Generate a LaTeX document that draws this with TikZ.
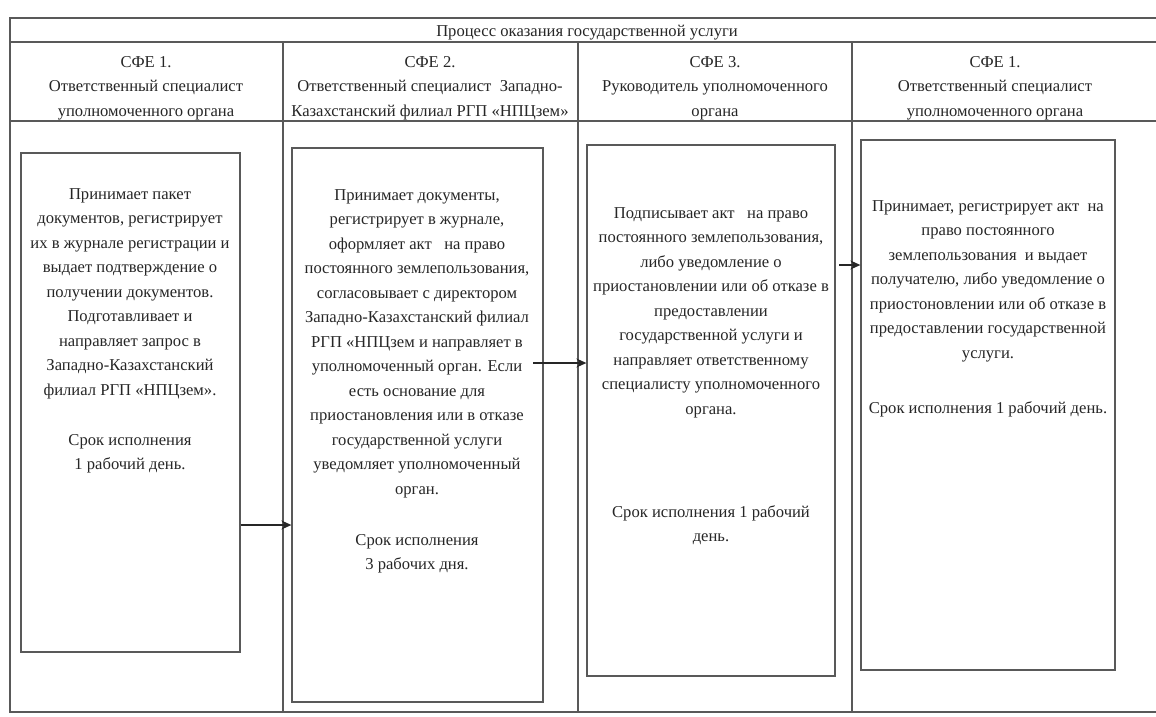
\documentclass[tikz,border=0pt]{standalone}
\usepackage{fontspec}
\setmainfont{Liberation Serif}
\usetikzlibrary{arrows.meta}
\newcommand{\topst}{\rule{0pt}{12pt}}
\begin{document}
\begin{tikzpicture}[x=1pt,y=-1pt,
  frame/.style={draw=black!65, line width=1.3pt},
  box/.style={draw=black!65, line width=1.3pt, inner sep=0pt, fill=none},
  txt/.style={align=center, font=\fontsize{16.6}{24.5}\selectfont, inner sep=0pt, anchor=north, text=black!85},
  arr/.style={draw=black!85, line width=1.2pt, -{Stealth[length=10pt,width=9pt]}}]
\useasboundingbox (0,0) rectangle (1156,717);
\fill[white] (0,0) rectangle (1156,717);
% table frame
\draw[frame] (1156,18) -- (10,18) -- (10,712) -- (1156,712);
\draw[frame] (10,42) -- (1156,42);
\draw[frame] (10,121) -- (1156,121);
\draw[frame] (283,42) -- (283,712);
\draw[frame] (578,42) -- (578,712);
\draw[frame] (852,42) -- (852,712);
% title
\node[txt] (title) at (587,24) {\topst Процесс оказания государственной услуги};
% headers
\node[txt] (h1) at (146,55) {\topst СФЕ 1.\\Ответственный специалист\\уполномоченного органа};
\node[txt] (h2) at (430,55) {\topst СФЕ 2.\\Ответственный специалист\ \ Западно-\\Казахстанский филиал РГП «НПЦзем»};
\node[txt] (h3) at (715,55) {\topst СФЕ 3.\\Руководитель уполномоченного\\органа};
\node[txt] (h4) at (995,55) {\topst СФЕ 1.\\Ответственный специалист\\уполномоченного органа};
% boxes
\node[box, minimum width=219pt, minimum height=499pt] (b1) at (130.5,402.5) {};
\node[box, minimum width=251pt, minimum height=554pt] (b2) at (417.5,425) {};
\node[box, minimum width=248pt, minimum height=531pt] (b3) at (711,410.5) {};
\node[box, minimum width=254pt, minimum height=530pt] (b4) at (988,405) {};
% box texts
\node[txt] (t1) at (130,187) {\topst Принимает пакет\\документов, регистрирует\\их в журнале регистрации и\\выдает подтверждение о\\получении документов.\\Подготавливает и\\направляет запрос в\\Западно-Казахстанский\\филиал РГП «НПЦзем».};
\node[txt] (s1) at (130,433) {\topst Срок исполнения\\1 рабочий день.};
\node[txt] (t2) at (417,188) {\topst Принимает документы,\\регистрирует в журнале,\\оформляет акт\ \ \ на право\\постоянного землепользования,\\согласовывает с директором\\Западно-Казахстанский филиал\\РГП «НПЦзем и направляет в\\уполномоченный орган. Если\\есть основание для\\приостановления или в отказе\\государственной услуги\\уведомляет уполномоченный\\орган.};
\node[txt] (s2) at (417,533) {\topst Срок исполнения\\3 рабочих дня.};
\node[txt] (t3) at (711,206) {\topst Подписывает акт\ \ \ на право\\постоянного землепользования,\\либо уведомление о\\приостановлении или об отказе в\\предоставлении\\государственной услуги и\\направляет ответственному\\специалисту уполномоченного\\органа.};
\node[txt] (s3) at (711,505) {\topst Срок исполнения 1 рабочий\\день.};
\node[txt] (t4) at (988,199) {\topst Принимает, регистрирует акт\ \ на\\право постоянного\\землепользования\ \ и выдает\\получателю, либо уведомление о\\приостоновлении или об отказе в\\предоставлении государственной\\услуги.};
\node[txt] (s4) at (988,401) {\topst Срок исполнения 1 рабочий день.};
% connectors
\coordinate (p1) at (0,525);
\draw[arr] (b1.east |- p1) -- (b2.west |- p1);
\coordinate (a2s) at (533,363);
\draw[arr] (a2s) -- (b3.west |- a2s);
\coordinate (a3s) at (839,265);
\draw[arr] (a3s) -- (b4.west |- a3s);
\end{tikzpicture}
\end{document}
